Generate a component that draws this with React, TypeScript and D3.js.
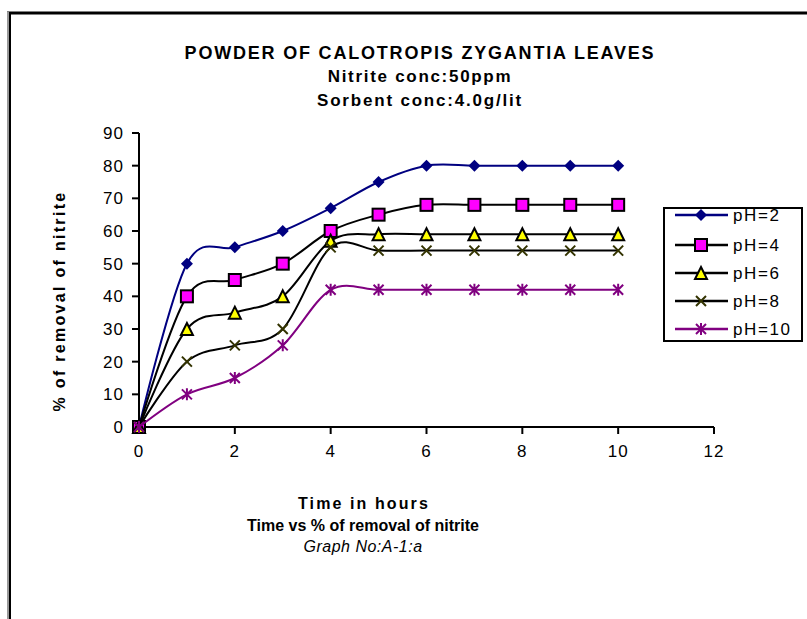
import React from "react";
import * as d3 from "d3";

const hours = [0, 1, 2, 3, 4, 5, 6, 7, 8, 9, 10];
const ph2 = [0, 50, 55, 60, 67, 75, 80, 80, 80, 80, 80];
const ph4 = [0, 40, 45, 50, 60, 65, 68, 68, 68, 68, 68];
const ph6 = [0, 30, 35, 40, 57, 59, 59, 59, 59, 59, 59];
const ph8 = [0, 20, 25, 30, 55, 54, 54, 54, 54, 54, 54];
const ph10 = [0, 10, 15, 25, 42, 42, 42, 42, 42, 42, 42];
const seriesNames = ["pH=2", "pH=4", "pH=6", "pH=8", "pH=10"];
const xTicks = [0, 2, 4, 6, 8, 10, 12];
const yTicks = [0, 10, 20, 30, 40, 50, 60, 70, 80, 90];

const FONT = "'Liberation Sans', Arial, sans-serif";

type Style = { line: string; marker: string; fill: string; stroke: string };
const styles: Style[] = [
  { line: "#000080", marker: "diamond", fill: "#000080", stroke: "#000080" },
  { line: "#000000", marker: "square", fill: "#FF00FF", stroke: "#000000" },
  { line: "#000000", marker: "triangle", fill: "#FFFF00", stroke: "#000000" },
  { line: "#000000", marker: "x", fill: "none", stroke: "#333300" },
  { line: "#800080", marker: "star", fill: "none", stroke: "#800080" },
];

function Marker({ kind, x, y, fill, stroke }: { kind: string; x: number; y: number; fill: string; stroke: string }) {
  if (kind === "diamond") {
    const s = 6;
    return <path d={`M${x},${y - s}L${x + s},${y}L${x},${y + s}L${x - s},${y}Z`} fill={fill} />;
  }
  if (kind === "square") {
    const s = 6;
    return <rect x={x - s} y={y - s} width={2 * s} height={2 * s} fill={fill} stroke={stroke} strokeWidth={2} />;
  }
  if (kind === "triangle") {
    const s = 6;
    return <path d={`M${x},${y - s}L${x + s},${y + s}L${x - s},${y + s}Z`} fill={fill} stroke={stroke} strokeWidth={2} />;
  }
  if (kind === "x") {
    const s = 5;
    return <path d={`M${x - s},${y - s}L${x + s},${y + s}M${x - s},${y + s}L${x + s},${y - s}`} stroke={stroke} strokeWidth={2} />;
  }
  const s = 5;
  return (
    <path
      d={`M${x - s},${y - s}L${x + s},${y + s}M${x - s},${y + s}L${x + s},${y - s}M${x},${y - s - 1}L${x},${y + s + 1}`}
      stroke={stroke}
      strokeWidth={2}
    />
  );
}

export default function App() {
  const W = 807;
  const H = 619;
  const x = d3.scaleLinear().domain([0, 12]).range([139, 714]);
  const y = d3.scaleLinear().domain([0, 90]).range([427, 133]);
  const all = [ph2, ph4, ph6, ph8, ph10];
  const line = d3
    .line<number>()
    .x((_, i) => x(hours[i]))
    .y((d) => y(d))
    .curve(d3.curveCardinal.tension(0));

  const legendX = 664;
  const legendY = 208;
  const legendRows = [215, 245, 273, 301, 329];

  return (
    <svg
      width={W}
      height={H}
      style={{ position: "absolute", left: 0, top: 0, background: "#fff" }}
      fontFamily={FONT}
    >
      <rect x={0} y={0} width={W} height={H} fill="#fff" />
      {/* frame */}
      <line x1={7} y1={13} x2={W} y2={13} stroke="#000" strokeWidth={3} />
      <line x1={8} y1={12} x2={8} y2={H} stroke="#999" strokeWidth={2} />
      <line x1={10} y1={12} x2={10} y2={H} stroke="#000" strokeWidth={2} />

      {/* titles */}
      <text x={420} y={59} textAnchor="middle" fontSize={18} fontWeight="bold" letterSpacing={1.8}>
        POWDER OF CALOTROPIS ZYGANTIA LEAVES
      </text>
      <text x={420} y={82} textAnchor="middle" fontSize={17} fontWeight="bold" letterSpacing={1.7}>
        Nitrite conc:50ppm
      </text>
      <text x={420} y={106} textAnchor="middle" fontSize={17} fontWeight="bold" letterSpacing={1.8}>
        Sorbent conc:4.0g/lit
      </text>

      {/* axes */}
      <line x1={x(0)} y1={y(0)} x2={x(12)} y2={y(0)} stroke="#000" strokeWidth={2} />
      <line x1={x(0)} y1={y(0)} x2={x(0)} y2={y(90)} stroke="#000" strokeWidth={2} />
      {xTicks.map((t) => (
        <g key={"xt" + t}>
          <line x1={x(t)} y1={y(0)} x2={x(t)} y2={y(0) + 7} stroke="#000" strokeWidth={2} />
          <text x={x(t)} y={457} textAnchor="middle" fontSize={17} letterSpacing={1}>
            {t}
          </text>
        </g>
      ))}
      {yTicks.map((t) => (
        <g key={"yt" + t}>
          <line x1={x(0) - 7} y1={y(t)} x2={x(0)} y2={y(t)} stroke="#000" strokeWidth={2} />
          <text x={124} y={y(t) + 6} textAnchor="end" fontSize={17} letterSpacing={1}>
            {t}
          </text>
        </g>
      ))}

      <text
        transform={`translate(65,301) rotate(-90)`}
        textAnchor="middle"
        fontSize={16}
        fontWeight="bold"
        letterSpacing={2.3}
      >
        % of removal  of nitrite
      </text>
      <text x={364} y={509} textAnchor="middle" fontSize={16} fontWeight="bold" letterSpacing={2.1}>
        Time in hours
      </text>
      <text x={363} y={531} textAnchor="middle" fontSize={16} fontWeight="bold">
        Time vs % of removal of nitrite
      </text>
      <text x={363} y={552} textAnchor="middle" fontSize={16} fontStyle="italic" letterSpacing={0.5}>
        Graph No:A-1:a
      </text>

      {/* series */}
      {all.map((vals, si) => (
        <g key={"s" + si}>
          <path d={line(vals) || ""} fill="none" stroke={styles[si].line} strokeWidth={2} />
          {vals.map((v, i) => (
            <Marker key={i} kind={styles[si].marker} x={x(hours[i])} y={y(v)} fill={styles[si].fill} stroke={styles[si].stroke} />
          ))}
        </g>
      ))}

      {/* legend */}
      <rect x={legendX} y={legendY} width={138} height={133} fill="#fff" stroke="#000" strokeWidth={2} />
      {seriesNames.map((n, i) => (
        <g key={"l" + i}>
          <line x1={675} y1={legendRows[i]} x2={728} y2={legendRows[i]} stroke={styles[i].line} strokeWidth={2.5} />
          <Marker kind={styles[i].marker} x={701} y={legendRows[i]} fill={styles[i].fill} stroke={styles[i].stroke} />
          <text x={733} y={legendRows[i] + 6} fontSize={17} letterSpacing={1.6}>
            {n}
          </text>
        </g>
      ))}
    </svg>
  );
}
